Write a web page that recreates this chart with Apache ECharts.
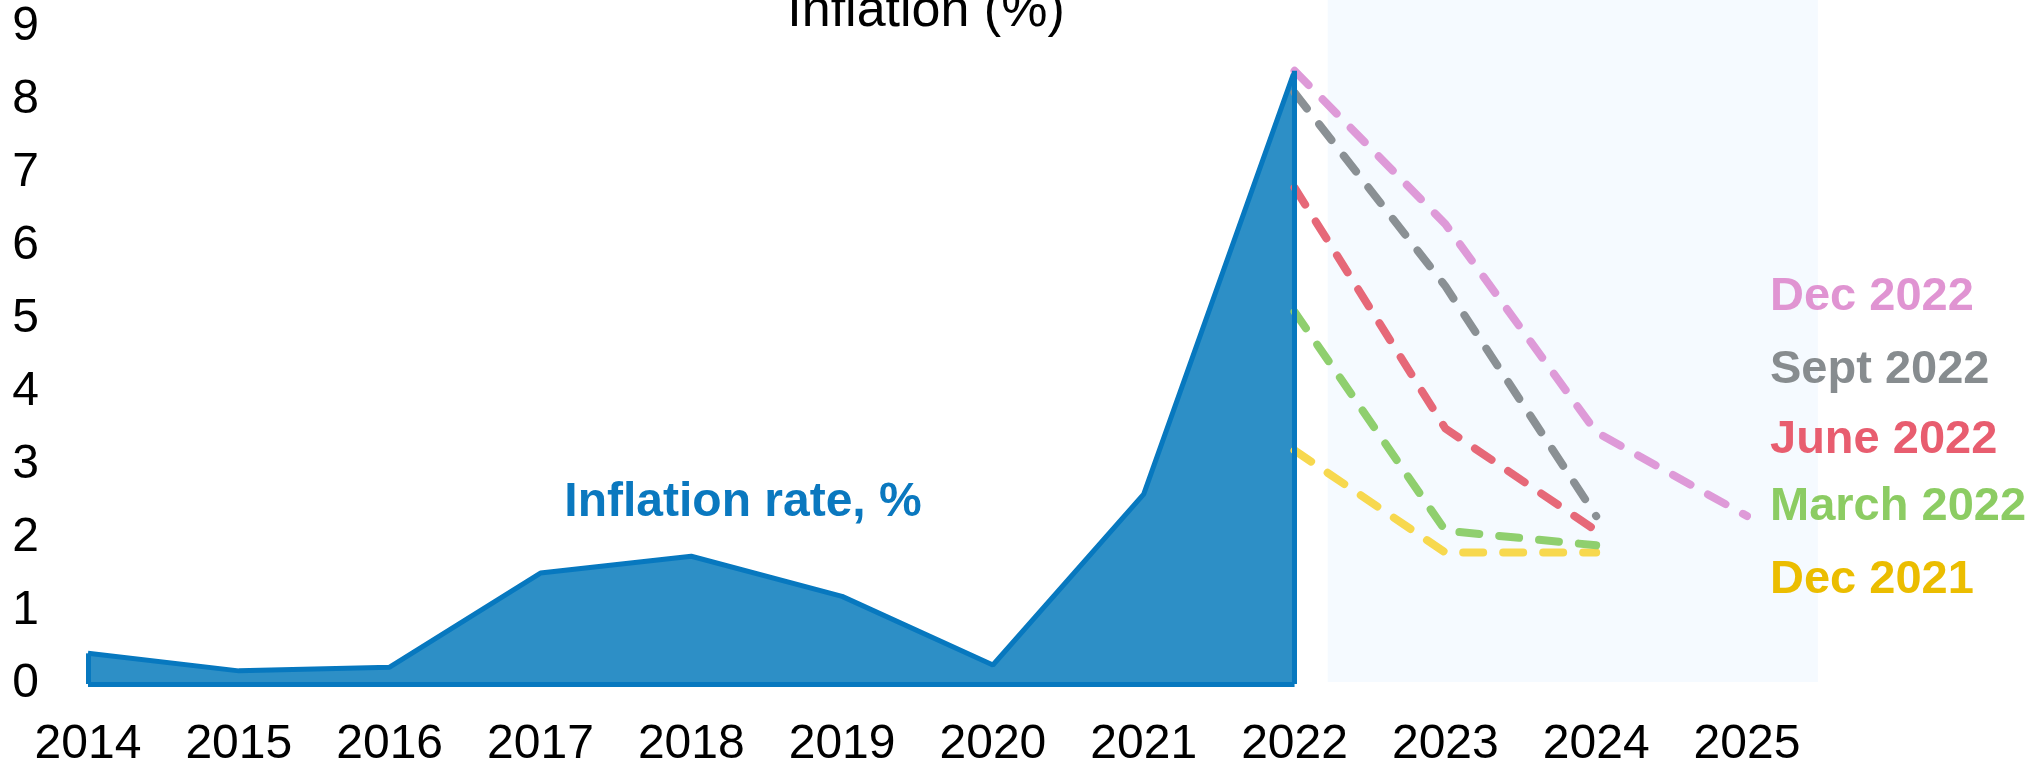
<!DOCTYPE html>
<html>
<head>
    <meta charset="utf-8">
    <title>Inflation (%)</title>
    <script src="https://cdn.jsdelivr.net/npm/echarts@6/dist/echarts.min.js"></script>
    <style>
        html, body { margin: 0; padding: 0; background: #fff; }
        #chart { width: 2043px; height: 763px; }
    </style>
</head>
<body>
<div id="chart"></div>
<script type="text/javascript">
    var FONT = '"Liberation Sans", Arial, sans-serif';

    // actual inflation, 2014-2022
    var years = [2014, 2015, 2016, 2017, 2018, 2019, 2020, 2021, 2022];
    var inflation = [0.42, 0.18, 0.23, 1.52, 1.75, 1.2, 0.26, 2.6, 8.4];

    // forecast vintages, starting at 2022
    var forecastYears = [2022, 2023, 2024, 2025];
    var dec2022 = [8.4, 6.3, 3.45, 2.3];
    var sept2022 = [8.1, 5.45, 2.3];
    var june2022 = [6.8, 3.5, 2.1];
    var march2022 = [5.1, 2.1, 1.9];
    var dec2021 = [3.2, 1.8, 1.8];

    var yTicks = [0, 9, 1];          // min, max, step
    var xTicks = [2014, 2025, 1];
    var forecastBand = [2022.22, 2025.47]; // shaded forecast zone (x, in years)

    function pairs(xs, ys) {
        var out = [];
        for (var i = 0; i < ys.length; i++) out.push([xs[i], ys[i]]);
        return out;
    }

    var blueLine = '#0778bf';
    var last = years.length - 1;

    function forecast(name, color, vals) {
        return {
            name: name,
            type: 'line',
            data: pairs(forecastYears, vals),
            symbol: 'none',
            z: 4,
            lineStyle: { color: color, width: 8, type: [20, 20], cap: 'round', join: 'round' }
        };
    }

    var myChart = echarts.init(document.getElementById('chart'));

    var option = {
        animation: false,
        grid: { left: 88, right: 296, top: 27, bottom: 79, containLabel: false, outerBoundsMode: 'none' },
        xAxis: {
            type: 'value',
            min: xTicks[0], max: xTicks[1], interval: xTicks[2],
            axisLine: { show: false },
            axisTick: { show: false },
            splitLine: { show: false },
            axisLabel: {
                margin: 37,
                color: '#000',
                fontFamily: FONT,
                fontSize: 48,
                formatter: function (v) { return String(v); }
            }
        },
        yAxis: {
            type: 'value',
            min: yTicks[0], max: yTicks[1], interval: yTicks[2],
            axisLine: { show: false },
            axisTick: { show: false },
            splitLine: { show: false },
            axisLabel: { margin: 49, color: '#000', fontFamily: FONT, fontSize: 48 }
        },
        series: [
            {
                name: 'Inflation rate, %',
                type: 'line',
                data: pairs(years, inflation),
                symbol: 'none',
                z: 3,
                lineStyle: { color: blueLine, width: 5 },
                areaStyle: { color: '#2d8fc6', opacity: 1 },
                markLine: {
                    silent: true,
                    symbol: ['none', 'none'],
                    label: { show: false },
                    lineStyle: { color: blueLine, width: 5, type: 'solid' },
                    data: [
                        [{ coord: [years[0], 0] }, { coord: [years[last], 0] }],
                        [{ coord: [years[0], 0] }, { coord: [years[0], inflation[0]] }],
                        [{ coord: [years[last], 0] }, { coord: [years[last], inflation[last]] }]
                    ]
                }
            },
            forecast('Dec 2021', '#f7d84e', dec2021),
            forecast('March 2022', '#8fcf6e', march2022),
            forecast('June 2022', '#e66878', june2022),
            forecast('Sept 2022', '#8a9094', sept2022),
            forecast('Dec 2022', '#de9ad8', dec2022)
        ]
    };
    myChart.setOption(option);

    // background band + text labels
    var p1 = myChart.convertToPixel({ gridIndex: 0 }, [forecastBand[0], 0]);
    var p2 = myChart.convertToPixel({ gridIndex: 0 }, [forecastBand[1], 0]);

    var legendNames = ['Dec 2022', 'Sept 2022', 'June 2022', 'March 2022', 'Dec 2021'];
    var legendColors = ['#e094d2', '#878c8f', '#e85d6f', '#8ccc63', '#ebbd00'];
    var legendY = [297, 370, 440, 507, 580];

    var graphics = [
        {
            type: 'rect', z: -10, silent: true,
            shape: { x: p1[0], y: 0, width: p2[0] - p1[0], height: p1[1] - 2 },
            style: { fill: '#f5faff' }
        },
        {
            type: 'text', z: 10,
            style: { text: 'Inflation (%)', x: 926, y: 12, align: 'center', verticalAlign: 'middle',
                     font: '52px ' + FONT, fill: '#000' }
        },
        {
            type: 'text', z: 10,
            style: { text: 'Inflation rate, %', x: 743, y: 503, align: 'center', verticalAlign: 'middle',
                     font: 'bold 48px ' + FONT, fill: '#0a78bf' }
        }
    ];
    for (var i = 0; i < legendNames.length; i++) {
        graphics.push({
            type: 'text', z: 10,
            style: { text: legendNames[i], x: 1770, y: legendY[i], align: 'left', verticalAlign: 'middle',
                     font: 'bold 47px ' + FONT, fill: legendColors[i] }
        });
    }
    myChart.setOption({ graphic: graphics });
</script>
</body>
</html>
